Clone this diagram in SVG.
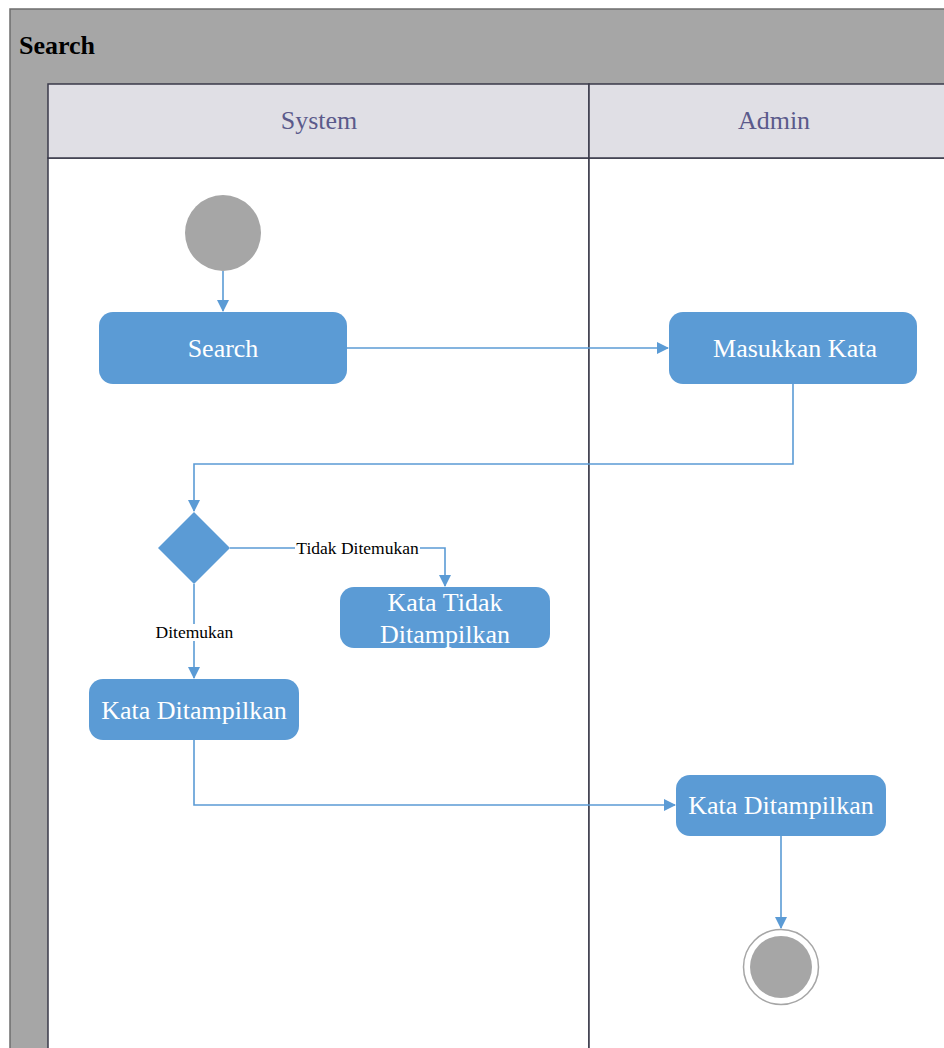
<svg xmlns="http://www.w3.org/2000/svg" width="944" height="1048" viewBox="0 0 944 1048">
  <defs>
    <marker id="arrow" viewBox="0 0 12 12" refX="11" refY="6" markerWidth="12" markerHeight="12" markerUnits="userSpaceOnUse" orient="auto">
      <path d="M0,0 L12,6 L0,12 Z" fill="#5b9bd5"/>
    </marker>
  </defs>
  <style>
    .pool { fill: #a6a6a6; stroke: #6d6d6d; stroke-width: 1.5; }
    .lanehead { fill: #e0dfe5; stroke: #3a3a4a; stroke-width: 1.5; }
    .lane { fill: #ffffff; stroke: #3a3a4a; stroke-width: 1.5; }
    .act { fill: #5b9bd5; stroke: none; }
    .acttext { font-family: "Liberation Serif", serif; font-size: 26px; fill: #ffffff; text-anchor: middle; }
    .headtext { font-family: "Liberation Serif", serif; font-size: 26px; fill: #5b5a8b; text-anchor: middle; }
    .label { font-family: "Liberation Serif", serif; font-size: 17.5px; fill: #000000; text-anchor: middle; }
    .flow { fill: none; stroke: #5b9bd5; stroke-width: 1.6; marker-end: url(#arrow); }
  </style>

  <!-- pool frame with title bar -->
  <g id="pool">
    <rect class="pool" x="10" y="9" width="950" height="1060"/>
    <text x="19" y="54" font-family="Liberation Serif, serif" font-size="26" font-weight="bold" fill="#000000">Search</text>
  </g>

  <!-- lanes -->
  <g id="lane-system">
    <rect class="lane" x="48" y="158" width="541" height="910"/>
    <rect class="lanehead" x="48" y="84" width="541" height="74"/>
    <text class="headtext" x="319" y="129">System</text>
  </g>
  <g id="lane-admin">
    <rect class="lane" x="589" y="158" width="370" height="910"/>
    <rect class="lanehead" x="589" y="84" width="370" height="74"/>
    <text class="headtext" x="774" y="129">Admin</text>
  </g>

  <!-- connectors -->
  <g id="connectors">
    <path class="flow" d="M223,271 L223,311"/>
    <path class="flow" d="M347,348 L668,348"/>
    <path class="flow" d="M793,384 L793,464 L194,464 L194,511"/>
    <path class="flow" d="M230,548 L445,548 L445,586"/>
    <path class="flow" d="M194,584 L194,678"/>
    <path class="flow" d="M194,740 L194,805 L675,805"/>
    <path class="flow" d="M781,836 L781,928"/>
    <rect x="295" y="540" width="125" height="17" fill="#ffffff"/>
    <text class="label" x="357.5" y="554">Tidak Ditemukan</text>
    <rect x="155" y="624" width="79" height="17" fill="#ffffff"/>
    <text class="label" x="194.5" y="638">Ditemukan</text>
  </g>

  <!-- nodes -->
  <g id="start">
    <circle cx="223" cy="233" r="38" fill="#a6a6a6"/>
  </g>
  <g id="search">
    <rect class="act" x="99" y="312" width="248" height="72" rx="14"/>
    <text class="acttext" x="223" y="357">Search</text>
  </g>
  <g id="masukkan-kata">
    <rect class="act" x="669" y="312" width="248" height="72" rx="14"/>
    <text class="acttext" x="795" y="357">Masukkan Kata</text>
  </g>
  <g id="decision">
    <polygon class="act" points="194,512 230,548 194,584 158,548"/>
  </g>
  <g id="kata-tidak-ditampilkan">
    <rect class="act" x="340" y="587" width="210" height="61" rx="14"/>
    <text class="acttext" x="445" y="611">Kata Tidak</text>
    <text class="acttext" x="445" y="643">Ditampilkan</text>
  </g>
  <g id="kata-ditampilkan-system">
    <rect class="act" x="89" y="679" width="210" height="61" rx="14"/>
    <text class="acttext" x="194" y="719">Kata Ditampilkan</text>
  </g>
  <g id="kata-ditampilkan-admin">
    <rect class="act" x="676" y="775" width="210" height="61" rx="14"/>
    <text class="acttext" x="781" y="814">Kata Ditampilkan</text>
  </g>
  <g id="end">
    <circle cx="781" cy="967" r="37.5" fill="#ffffff" stroke="#a6a6a6" stroke-width="1.5"/>
    <circle cx="781" cy="967" r="31" fill="#a6a6a6"/>
  </g>
</svg>
